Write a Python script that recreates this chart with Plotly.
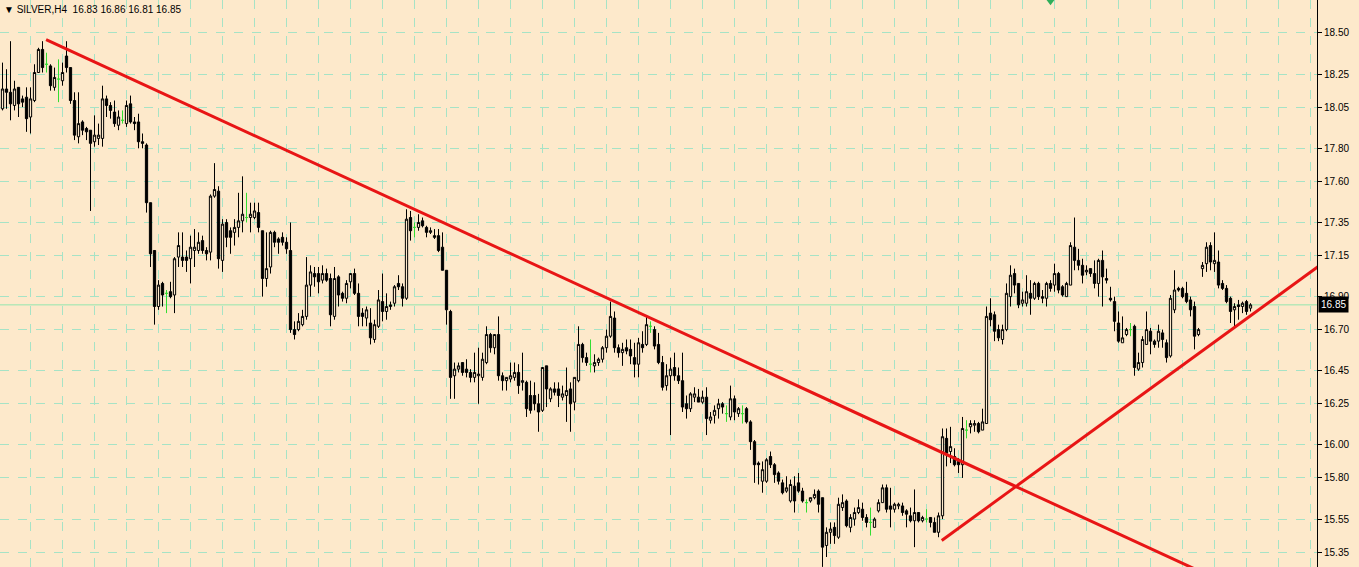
import plotly.graph_objects as go

# ---- data (SILVER, H4) ----
opens = [18.04, 18.16, 18.14, 18.06, 18.17, 18.10, 18.11, 17.99, 18.09, 18.26,
 18.40, 18.31, 18.30, 18.17, 18.22, 18.21, 18.36, 18.29, 18.09, 17.87,
 17.96, 17.92, 17.91, 17.84, 17.86, 17.86, 18.10, 18.06, 18.02, 17.94,
 17.97, 17.95, 18.07, 17.96, 17.96, 17.84, 17.82, 17.47, 17.18, 16.84,
 16.98, 16.92, 16.93, 16.91, 17.14, 17.14, 17.14, 17.13, 17.18, 17.18,
 17.24, 17.18, 17.17, 17.51, 17.54, 17.12, 17.35, 17.30, 17.29, 17.32,
 17.36, 17.38, 17.38, 17.38, 17.41, 17.30, 17.01, 17.08, 17.29, 17.25,
 17.26, 17.23, 17.18, 16.70, 16.70, 16.73, 16.78, 16.97, 17.04, 17.04,
 17.00, 17.04, 17.01, 16.78, 17.02, 16.92, 16.89, 16.99, 17.04, 16.92,
 16.80, 16.77, 16.74, 16.64, 16.72, 16.87, 16.81, 16.84, 16.86, 16.98,
 16.96, 16.89, 17.38, 17.32, 17.32, 17.36, 17.32, 17.29, 17.27, 17.27,
 17.20, 17.06, 16.81, 16.42, 16.46, 16.50, 16.46, 16.44, 16.41, 16.42,
 16.41, 16.50, 16.67, 16.59, 16.67, 16.42, 16.39, 16.40, 16.41, 16.44,
 16.38, 16.38, 16.30, 16.30, 16.25, 16.21, 16.48, 16.28, 16.34, 16.34,
 16.29, 16.30, 16.34, 16.26, 16.39, 16.61, 16.53, 16.49, 16.48, 16.50,
 16.52, 16.59, 16.66, 16.77, 16.59, 16.56, 16.59, 16.58, 16.53, 16.49,
 16.61, 16.61, 16.72, 16.70, 16.61, 16.50, 16.36, 16.42, 16.47, 16.42,
 16.39, 16.25, 16.22, 16.29, 16.29, 16.26, 16.29, 16.15, 16.18, 16.22,
 16.25, 16.19, 16.17, 16.28, 16.19, 16.19, 16.22, 16.14, 16.02, 15.89,
 15.78, 15.78, 15.93, 15.88, 15.83, 15.77, 15.72, 15.66, 15.75, 15.77,
 15.72, 15.65, 15.66, 15.68, 15.72, 15.68, 15.39, 15.47, 15.50, 15.44,
 15.62, 15.66, 15.50, 15.55, 15.59, 15.61, 15.56, 15.53, 15.50, 15.60,
 15.65, 15.74, 15.63, 15.61, 15.63, 15.63, 15.60, 15.57, 15.54, 15.59,
 15.54, 15.55, 15.56, 15.53, 15.47, 15.57, 16.04, 15.96, 15.93, 15.90,
 15.88, 16.09, 16.11, 16.12, 16.13, 16.09, 16.13, 16.80, 16.79, 16.70,
 16.64, 16.70, 16.90, 17.04, 16.98, 16.86, 16.86, 16.92, 16.89, 16.98,
 16.90, 16.89, 16.98, 16.97, 17.04, 16.96, 16.90, 16.97, 17.20, 17.12,
 17.09, 17.05, 17.07, 17.04, 16.98, 17.12, 17.01, 16.89, 16.87, 16.74,
 16.62, 16.67, 16.70, 16.72, 16.46, 16.50, 16.61, 16.69, 16.63, 16.63,
 16.68, 16.62, 16.54, 16.82, 16.95, 16.95, 16.92, 16.88, 16.84, 16.67,
 17.07, 17.10, 17.21, 17.10, 17.11, 16.98, 16.95, 16.89, 16.82, 16.85,
 16.84, 16.87, 16.83]

highs = [18.32, 18.28, 18.45, 18.21, 18.17, 18.12, 18.17, 18.17, 18.31, 18.41,
 18.45, 18.38, 18.31, 18.29, 18.34, 18.32, 18.45, 18.29, 18.14, 18.14,
 17.97, 17.93, 17.91, 18.00, 17.95, 18.18, 18.12, 18.08, 18.09, 18.03,
 18.03, 18.09, 18.12, 17.99, 18.01, 17.89, 17.83, 17.47, 17.18, 17.00,
 16.99, 16.94, 16.99, 17.14, 17.29, 17.29, 17.18, 17.27, 17.31, 17.29,
 17.27, 17.20, 17.52, 17.71, 17.57, 17.37, 17.37, 17.32, 17.37, 17.53,
 17.63, 17.53, 17.47, 17.47, 17.47, 17.30, 17.29, 17.30, 17.30, 17.26,
 17.29, 17.26, 17.35, 16.75, 16.80, 16.82, 17.14, 17.09, 17.08, 17.08,
 17.09, 17.07, 17.04, 17.08, 17.03, 16.93, 17.00, 17.04, 17.07, 16.98,
 16.83, 16.84, 16.83, 16.76, 16.94, 17.04, 16.92, 16.87, 16.97, 17.03,
 16.98, 17.43, 17.42, 17.35, 17.40, 17.38, 17.33, 17.32, 17.31, 17.31,
 17.29, 17.06, 16.82, 16.50, 16.50, 16.50, 16.52, 16.46, 16.56, 16.59,
 16.56, 16.72, 16.68, 16.67, 16.78, 16.44, 16.41, 16.50, 16.50, 16.49,
 16.56, 16.39, 16.39, 16.38, 16.31, 16.47, 16.48, 16.35, 16.38, 16.38,
 16.36, 16.47, 16.38, 16.41, 16.72, 16.62, 16.56, 16.64, 16.55, 16.53,
 16.60, 16.70, 16.87, 16.81, 16.61, 16.62, 16.64, 16.64, 16.62, 16.65,
 16.69, 16.78, 16.75, 16.72, 16.68, 16.54, 16.49, 16.53, 16.56, 16.47,
 16.56, 16.30, 16.32, 16.35, 16.34, 16.33, 16.35, 16.20, 16.24, 16.28,
 16.26, 16.24, 16.36, 16.30, 16.23, 16.24, 16.23, 16.15, 16.03, 15.90,
 15.90, 15.92, 15.96, 15.89, 15.84, 15.79, 15.81, 15.79, 15.81, 15.83,
 15.74, 15.67, 15.68, 15.73, 15.73, 15.68, 15.50, 15.53, 15.53, 15.68,
 15.70, 15.67, 15.58, 15.62, 15.67, 15.65, 15.58, 15.62, 15.56, 15.67,
 15.76, 15.76, 15.74, 15.65, 15.65, 15.65, 15.61, 15.62, 15.73, 15.59,
 15.57, 15.61, 15.56, 15.56, 15.59, 16.10, 16.10, 16.11, 15.98, 15.92,
 16.17, 16.15, 16.15, 16.15, 16.14, 16.22, 16.84, 16.89, 16.81, 16.73,
 16.73, 16.98, 17.09, 17.07, 16.98, 16.93, 17.03, 17.00, 16.99, 16.99,
 16.94, 16.99, 17.00, 17.10, 17.05, 16.97, 16.99, 17.23, 17.38, 17.19,
 17.13, 17.09, 17.07, 17.12, 17.13, 17.18, 17.07, 16.96, 16.90, 16.81,
 16.78, 16.71, 16.74, 16.73, 16.56, 16.66, 16.81, 16.71, 16.64, 16.73,
 16.70, 16.64, 16.91, 17.06, 16.96, 16.96, 16.99, 16.90, 16.87, 16.71,
 17.11, 17.23, 17.23, 17.29, 17.18, 17.00, 16.97, 16.90, 16.86, 16.88,
 16.87, 16.88, 16.86]

lows = [18.03, 18.04, 17.97, 18.03, 17.99, 18.05, 17.90, 17.89, 18.08, 18.26,
 18.26, 18.26, 18.15, 18.15, 18.08, 18.18, 18.26, 18.07, 17.85, 17.83,
 17.88, 17.85, 17.42, 17.81, 17.82, 17.81, 17.99, 17.98, 17.93, 17.91,
 17.95, 17.93, 17.95, 17.91, 17.80, 17.80, 17.41, 17.08, 16.73, 16.82,
 16.84, 16.80, 16.89, 16.80, 17.08, 17.08, 17.05, 16.98, 17.08, 17.16,
 17.16, 17.12, 17.12, 17.50, 17.07, 17.05, 17.20, 17.16, 17.21, 17.26,
 17.29, 17.35, 17.29, 17.37, 17.29, 16.90, 16.96, 17.04, 17.20, 17.16,
 17.21, 17.16, 16.68, 16.64, 16.69, 16.72, 16.76, 16.90, 16.96, 16.92,
 16.98, 16.99, 16.72, 16.76, 16.84, 16.87, 16.86, 16.95, 16.91, 16.72,
 16.72, 16.72, 16.61, 16.62, 16.71, 16.75, 16.76, 16.82, 16.84, 16.94,
 16.84, 16.88, 17.24, 17.26, 17.30, 17.32, 17.26, 17.28, 17.25, 17.17,
 17.06, 16.73, 16.28, 16.28, 16.44, 16.42, 16.41, 16.38, 16.38, 16.25,
 16.39, 16.49, 16.56, 16.55, 16.39, 16.33, 16.33, 16.38, 16.39, 16.31,
 16.33, 16.17, 16.19, 16.21, 16.08, 16.20, 16.23, 16.26, 16.30, 16.23,
 16.27, 16.14, 16.08, 16.21, 16.38, 16.50, 16.48, 16.44, 16.44, 16.48,
 16.50, 16.56, 16.65, 16.56, 16.53, 16.48, 16.55, 16.49, 16.41, 16.41,
 16.56, 16.60, 16.68, 16.58, 16.49, 16.33, 16.33, 16.06, 16.39, 16.37,
 16.20, 16.16, 16.20, 16.26, 16.26, 16.25, 16.06, 16.13, 16.13, 16.16,
 16.19, 16.14, 16.15, 16.15, 16.17, 16.13, 16.13, 15.97, 15.77, 15.76,
 15.71, 15.77, 15.86, 15.77, 15.76, 15.70, 15.71, 15.65, 15.59, 15.71,
 15.65, 15.59, 15.65, 15.67, 15.59, 15.26, 15.32, 15.40, 15.40, 15.43,
 15.60, 15.50, 15.47, 15.51, 15.58, 15.54, 15.50, 15.45, 15.50, 15.59,
 15.65, 15.59, 15.50, 15.59, 15.61, 15.57, 15.50, 15.53, 15.38, 15.53,
 15.53, 15.53, 15.50, 15.47, 15.44, 15.55, 15.87, 15.89, 15.87, 15.83,
 15.80, 16.04, 16.07, 16.08, 16.07, 16.09, 16.13, 16.72, 16.63, 16.63,
 16.61, 16.69, 16.84, 16.92, 16.83, 16.84, 16.84, 16.79, 16.88, 16.88,
 16.86, 16.84, 16.93, 16.93, 16.92, 16.90, 16.90, 16.97, 17.06, 17.06,
 16.98, 17.03, 17.02, 16.95, 16.90, 16.84, 16.98, 16.87, 16.69, 16.62,
 16.62, 16.66, 16.66, 16.42, 16.45, 16.47, 16.61, 16.55, 16.59, 16.59,
 16.59, 16.50, 16.53, 16.80, 16.93, 16.89, 16.86, 16.78, 16.58, 16.66,
 17.02, 17.05, 17.06, 17.05, 16.95, 16.94, 16.86, 16.74, 16.72, 16.76,
 16.80, 16.79, 16.81]

closes = [18.16, 18.14, 18.07, 18.16, 18.07, 18.08, 17.98, 18.10, 18.26, 18.40,
 18.29, 18.31, 18.18, 18.23, 18.22, 18.26, 18.29, 18.09, 17.88, 17.95,
 17.91, 17.90, 17.83, 17.88, 17.88, 18.10, 18.06, 18.03, 17.95, 17.99,
 17.97, 18.06, 17.96, 17.95, 17.84, 17.83, 17.47, 17.16, 16.84, 16.97,
 16.91, 16.92, 16.90, 17.13, 17.21, 17.12, 17.12, 17.20, 17.20, 17.23,
 17.18, 17.16, 17.51, 17.55, 17.13, 17.34, 17.26, 17.26, 17.32, 17.36,
 17.40, 17.38, 17.40, 17.42, 17.32, 17.01, 17.07, 17.29, 17.23, 17.23,
 17.23, 17.19, 16.70, 16.67, 16.75, 16.78, 16.97, 17.05, 17.02, 16.99,
 17.04, 17.00, 16.79, 17.01, 16.91, 16.89, 16.98, 17.04, 16.92, 16.78,
 16.78, 16.82, 16.65, 16.73, 16.88, 16.81, 16.84, 16.85, 16.96, 16.96,
 16.89, 17.37, 17.30, 17.32, 17.35, 17.33, 17.29, 17.30, 17.26, 17.18,
 17.06, 16.82, 16.41, 16.46, 16.48, 16.44, 16.44, 16.41, 16.44, 16.43,
 16.52, 16.67, 16.59, 16.67, 16.42, 16.39, 16.41, 16.42, 16.44, 16.36,
 16.39, 16.22, 16.21, 16.25, 16.20, 16.47, 16.34, 16.34, 16.32, 16.30,
 16.31, 16.33, 16.25, 16.41, 16.61, 16.53, 16.50, 16.49, 16.50, 16.52,
 16.59, 16.66, 16.78, 16.59, 16.56, 16.58, 16.57, 16.54, 16.49, 16.62,
 16.59, 16.73, 16.72, 16.60, 16.50, 16.35, 16.42, 16.46, 16.42, 16.39,
 16.23, 16.22, 16.31, 16.31, 16.26, 16.29, 16.16, 16.17, 16.21, 16.25,
 16.23, 16.19, 16.28, 16.20, 16.22, 16.19, 16.14, 16.02, 15.88, 15.88,
 15.85, 15.91, 15.88, 15.82, 15.78, 15.71, 15.74, 15.76, 15.66, 15.72,
 15.66, 15.65, 15.68, 15.70, 15.64, 15.38, 15.47, 15.49, 15.45, 15.64,
 15.65, 15.51, 15.56, 15.59, 15.62, 15.56, 15.53, 15.53, 15.55, 15.65,
 15.74, 15.61, 15.61, 15.64, 15.64, 15.59, 15.58, 15.54, 15.59, 15.54,
 15.56, 15.55, 15.53, 15.47, 15.57, 16.05, 15.95, 15.99, 15.88, 15.88,
 16.10, 16.09, 16.13, 16.13, 16.08, 16.14, 16.78, 16.76, 16.69, 16.65,
 16.70, 16.92, 17.03, 16.97, 16.85, 16.88, 16.93, 16.89, 16.98, 16.90,
 16.89, 16.98, 16.95, 17.04, 16.94, 16.91, 16.98, 17.21, 17.12, 17.09,
 17.03, 17.06, 17.04, 16.98, 17.12, 17.02, 17.00, 16.88, 16.75, 16.63,
 16.65, 16.70, 16.70, 16.47, 16.50, 16.64, 16.70, 16.63, 16.61, 16.69,
 16.64, 16.53, 16.89, 16.94, 16.94, 16.90, 16.87, 16.82, 16.66, 16.70,
 17.09, 17.20, 17.11, 17.12, 16.97, 16.95, 16.87, 16.81, 16.84, 16.84,
 16.86, 16.81, 16.85]

# trend lines (bar index, price)
down_x = [10.9, 305.0]
down_y = [18.46, 15.17]
up_x = [234.8, 335.0]
up_y = [15.42, 17.19]

# small trade arrow at the top edge
arrow_x = [262]
arrow_y = [18.69]

bid_price = 16.85
price_ticks = [18.50, 18.25, 18.05, 17.80, 17.60, 17.35, 17.15, 16.90, 16.70,
               16.45, 16.25, 16.00, 15.80, 15.55, 15.35]
price_labels = ["18.50", "18.25", "18.05", "17.80", "17.60", "17.35", "17.15", "16.90",
                "16.70", "16.45", "16.25", "16.00", "15.80", "15.55", "15.35"]
title_text = "\u25BC SILVER,H4\u00a0\u00a016.83 16.86 16.81 16.85"

# ---- styling ----
BG = "#FDE9CB"
GRID = "#A6E3C6"
BID = "#93E6AE"
DOJI = "#33DD33"
RED = "#E81515"

n = len(opens)
idx = list(range(n))
is_doji = [opens[i] == closes[i] for i in idx]
main_i = [i for i in idx if not is_doji[i]]
doji_i = [i for i in idx if is_doji[i]]

fig = go.Figure()

fig.add_trace(go.Candlestick(
    x=main_i,
    open=[opens[i] for i in main_i], high=[highs[i] for i in main_i],
    low=[lows[i] for i in main_i], close=[closes[i] for i in main_i],
    increasing=dict(line=dict(color="black", width=1), fillcolor=BG),
    decreasing=dict(line=dict(color="black", width=1), fillcolor="black"),
    whiskerwidth=0, hoverinfo="skip", showlegend=False))

fig.add_trace(go.Candlestick(
    x=doji_i,
    open=[opens[i] for i in doji_i], high=[highs[i] for i in doji_i],
    low=[lows[i] for i in doji_i], close=[closes[i] for i in doji_i],
    increasing=dict(line=dict(color=DOJI, width=1), fillcolor=DOJI),
    decreasing=dict(line=dict(color=DOJI, width=1), fillcolor=DOJI),
    whiskerwidth=0, hoverinfo="skip", showlegend=False))

# bid line
fig.add_hline(y=bid_price, line=dict(color=BID, width=1), layer="below")

# trend lines
fig.add_trace(go.Scatter(x=down_x, y=down_y, mode="lines",
                         line=dict(color=RED, width=3), hoverinfo="skip", showlegend=False))
fig.add_trace(go.Scatter(x=up_x, y=up_y, mode="lines",
                         line=dict(color=RED, width=3), hoverinfo="skip", showlegend=False))

# trade arrow marker
fig.add_trace(go.Scatter(x=arrow_x, y=arrow_y, mode="markers",
                         marker=dict(symbol="triangle-down", size=7, color="#2FAE5A"),
                         hoverinfo="skip", showlegend=False))

fig.update_layout(
    width=1359, height=567,
    margin=dict(l=0, r=42, t=0, b=0),
    paper_bgcolor=BG, plot_bgcolor=BG,
    showlegend=False,
    boxgap=0.25, boxgroupgap=0.25,
    font=dict(family="Liberation Sans, Arial, sans-serif", size=10, color="black"),
    xaxis=dict(range=[-0.625, 328.625], showticklabels=False, ticks="",
               showgrid=True, gridcolor=GRID, griddash="dash", gridwidth=1,
               tick0=7, dtick=8, zeroline=False, showline=False, fixedrange=True,
               rangeslider=dict(visible=False)),
    yaxis=dict(side="right", range=[15.2594, 18.70], tickmode="array",
               tickvals=price_ticks, ticktext=price_labels,
               showgrid=True, gridcolor=GRID, griddash="dash", gridwidth=1,
               showline=True, linecolor="black", linewidth=1,
               ticks="outside", ticklen=4, tickcolor="black", tickwidth=1,
               tickfont=dict(family="Liberation Sans, Arial, sans-serif", size=10, color="black"),
               zeroline=False, fixedrange=True),
    annotations=[
        dict(x=0, y=1, xref="paper", yref="paper", xanchor="left", yanchor="top",
             xshift=2, yshift=-2, text=title_text, showarrow=False,
             font=dict(family="Liberation Sans, Arial, sans-serif", size=10, color="black")),
        dict(x=1, y=bid_price, xref="paper", yref="y", xanchor="left", yanchor="middle",
             xshift=1, text="16.85", showarrow=False, bgcolor="black", borderpad=2,
             font=dict(family="Liberation Sans, Arial, sans-serif", size=10, color="white")),
    ],
)

fig.write_html("out.html", config={"displayModeBar": False},
               post_script="document.body.style.margin='0';document.body.style.overflow='hidden';")
